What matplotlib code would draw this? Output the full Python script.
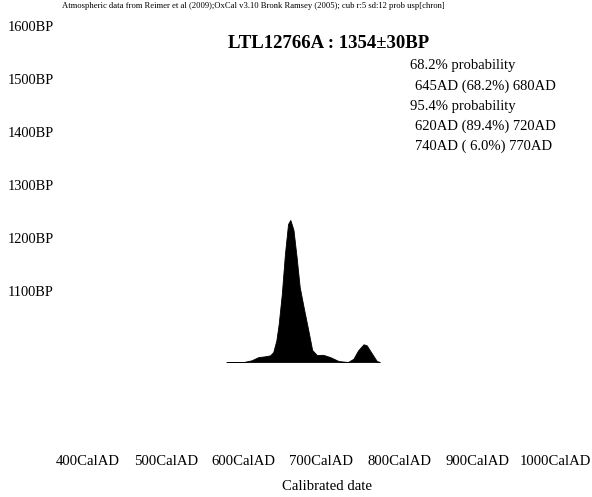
import matplotlib
matplotlib.use("Agg")
import matplotlib.pyplot as plt

W, H = 592, 497

# calibrated distribution (relative probability)
cal_years = [578, 600, 610, 619, 627, 634, 638, 642, 645, 649, 653, 657, 660,
             664, 668, 672, 677, 683, 688, 694, 702, 711, 722, 734, 741, 747,
             754, 758, 765, 771, 775]
cal_prob = [0, 0, 0.012, 0.035, 0.04, 0.047, 0.07, 0.153, 0.268, 0.479, 0.76,
            0.972, 1.0, 0.93, 0.74, 0.528, 0.387, 0.225, 0.085, 0.049, 0.051,
            0.035, 0.007, 0, 0.023, 0.082, 0.125, 0.118, 0.058, 0.007, 0]

x_ticks = [400, 500, 600, 700, 800, 900, 1000]
x_labels = ["%dCalAD" % v for v in x_ticks]
bp_ticks = [1600, 1500, 1400, 1300, 1200, 1100]
bp_labels = ["%dBP" % v for v in bp_ticks]

title = "LTL12766A : 1354\u00b130BP"
note = ("Atmospheric data from Reimer et al (2009);OxCal v3.10 Bronk Ramsey (2005); "
        "cub r:5 sd:12 prob usp[chron]")
prob_lines = ["68.2% probability",
              "645AD (68.2%) 680AD",
              "95.4% probability",
              "620AD (89.4%) 720AD",
              "740AD ( 6.0%) 770AD"]
prob_indent = [0, 1, 0, 1, 1]

plt.rcParams['font.family'] = ['Liberation Serif', 'DejaVu Serif']


def px(x, y):
    return x / W, 1 - y / H


fig = plt.figure(figsize=(W / 100, H / 100), dpi=100)
ax = fig.add_axes([88 / W, 1 - 440 / H, 467 / W, 414 / H])
ax.set_xlim(400, 1000)
ax.set_ylim(818.9, 1600)
for s in ax.spines.values():
    s.set_visible(False)
ax.set_xticks(x_ticks)
ax.set_xticklabels(x_labels, fontsize=10.6)
ax.set_yticks(bp_ticks)
ax.set_yticklabels(bp_labels, fontsize=10.4, ha='left')
ax.tick_params(axis='x', length=0, pad=11)
ax.tick_params(axis='y', length=0, pad=57.6)
ax.set_xlabel("Calibrated date", fontsize=10.6)
ax.xaxis.set_label_coords((327 - 88) / 467, (440 - 480) / 414)

ax2 = ax.twinx()
ax2.set_ylim(-0.549, 2.366)
ax2.axis('off')
ax2.fill_between(cal_years, 0, cal_prob, color='black', lw=0.6)

fig.text(*px(329, 43), title, fontsize=13.5, fontweight='bold',
         ha='center', va='center')
fig.text(*px(62, 6), note, fontsize=6.2, ha='left', va='center')
for i, (line, ind) in enumerate(zip(prob_lines, prob_indent)):
    fig.text(*px(410 + 5 * ind, 66 + 20 * i), line, fontsize=10.5,
             ha='left', va='center')

fig.savefig("out.png", dpi=100)
